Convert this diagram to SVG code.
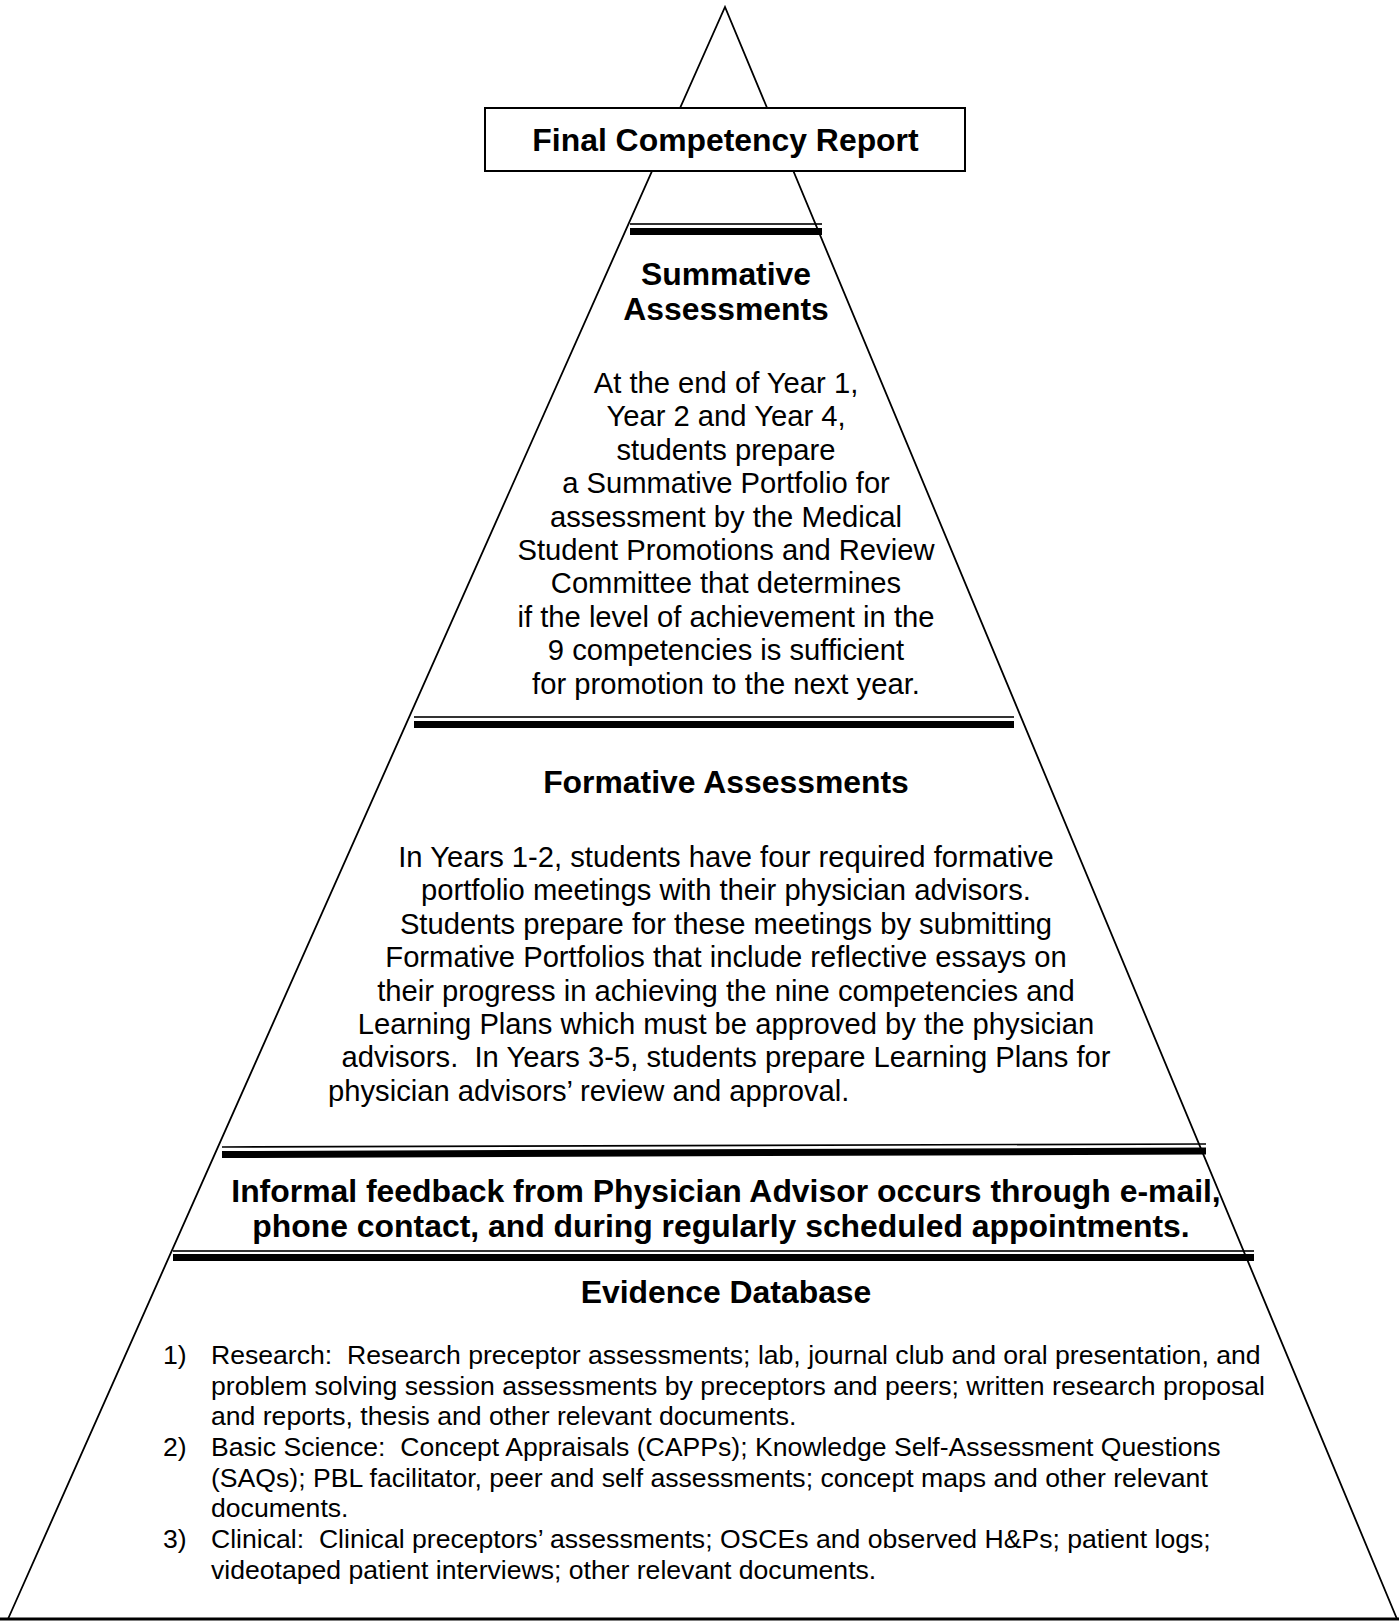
<svg xmlns="http://www.w3.org/2000/svg" width="1399" height="1621" viewBox="0 0 1399 1621">
<style>
text { fill: #000; font-family: "Liberation Sans", Arial, sans-serif; }
.h { font-size: 31.9px; font-weight: bold; }
.b { font-size: 29.2px; }
.e { font-size: 26.6px; }
.m { text-anchor: middle; }
.edge { fill: none; stroke: #000; stroke-width: 1.8; }
.bar { fill: #000; }
</style>
<rect x="0" y="0" width="1399" height="1621" fill="#fff"/>
<g id="pyramid">
  <polyline class="edge" points="8,1619 725,7 1397,1619"/>
  <line x1="0" y1="1619" x2="1399" y2="1619" stroke="#000" stroke-width="3"/>
</g>
<g id="final-report">
  <rect x="485" y="108" width="480" height="63" fill="#fff" stroke="#000" stroke-width="2"/>
  <text class="h m" x="725.5" y="151">Final Competency Report</text>
</g>
<g id="separators">
  <rect class="bar" x="630" y="223.2" width="192" height="1.6"/>
  <rect class="bar" x="630" y="228" width="192" height="7"/>
  <rect class="bar" x="414" y="716.2" width="600" height="1.6"/>
  <rect class="bar" x="414" y="721" width="600" height="7"/>
  <line x1="222" y1="1147" x2="1206" y2="1144" stroke="#000" stroke-width="1.6"/>
  <polygon class="bar" points="222,1151 1206,1147.5 1206,1154.5 222,1158"/>
  <rect class="bar" x="173" y="1250.2" width="1081" height="1.6"/>
  <rect class="bar" x="173" y="1254" width="1081" height="7"/>
</g>
<g id="summative">
  <text class="h m" x="726" y="285">Summative</text>
  <text class="h m" x="726" y="320">Assessments</text>
  <text class="b m" x="726" y="393">At the end of Year 1,</text>
  <text class="b m" x="726" y="426.4">Year 2 and Year 4,</text>
  <text class="b m" x="726" y="459.8">students prepare</text>
  <text class="b m" x="726" y="493.2">a Summative Portfolio for</text>
  <text class="b m" x="726" y="526.6">assessment by the Medical</text>
  <text class="b m" x="726" y="560">Student Promotions and Review</text>
  <text class="b m" x="726" y="593.4">Committee that determines</text>
  <text class="b m" x="726" y="626.8">if the level of achievement in the</text>
  <text class="b m" x="726" y="660.2">9 competencies is sufficient</text>
  <text class="b m" x="726" y="693.6">for promotion to the next year.</text>
</g>
<g id="formative">
  <text class="h m" x="726" y="793">Formative Assessments</text>
  <text class="b m" x="726" y="867">In Years 1-2, students have four required formative</text>
  <text class="b m" x="726" y="900.4">portfolio meetings with their physician advisors.</text>
  <text class="b m" x="726" y="933.8">Students prepare for these meetings by submitting</text>
  <text class="b m" x="726" y="967.2">Formative Portfolios that include reflective essays on</text>
  <text class="b m" x="726" y="1000.6">their progress in achieving the nine competencies and</text>
  <text class="b m" x="726" y="1034">Learning Plans which must be approved by the physician</text>
  <text class="b m" x="726" y="1067.4" xml:space="preserve">advisors.  In Years 3-5, students prepare Learning Plans for</text>
  <text class="b" x="328" y="1100.8">physician advisors’ review and approval.</text>
</g>
<g id="informal">
  <text class="h m" x="726" y="1202">Informal feedback from Physician Advisor occurs through e-mail,</text>
  <text class="h m" x="721" y="1237">phone contact, and during regularly scheduled appointments.</text>
</g>
<g id="evidence">
  <text class="h m" x="726" y="1303">Evidence Database</text>
  <text class="e" x="163" y="1364">1)</text>
  <text class="e" x="211" y="1364" xml:space="preserve">Research:  Research preceptor assessments; lab, journal club and oral presentation, and</text>
  <text class="e" x="211" y="1394.7">problem solving session assessments by preceptors and peers; written research proposal</text>
  <text class="e" x="211" y="1425.4">and reports, thesis and other relevant documents.</text>
  <text class="e" x="163" y="1456">2)</text>
  <text class="e" x="211" y="1456" xml:space="preserve">Basic Science:  Concept Appraisals (CAPPs); Knowledge Self-Assessment Questions</text>
  <text class="e" x="211" y="1486.7">(SAQs); PBL facilitator, peer and self assessments; concept maps and other relevant</text>
  <text class="e" x="211" y="1517.4">documents.</text>
  <text class="e" x="163" y="1548">3)</text>
  <text class="e" x="211" y="1548" xml:space="preserve">Clinical:  Clinical preceptors’ assessments; OSCEs and observed H&amp;Ps; patient logs;</text>
  <text class="e" x="211" y="1578.7">videotaped patient interviews; other relevant documents.</text>
</g>
</svg>
